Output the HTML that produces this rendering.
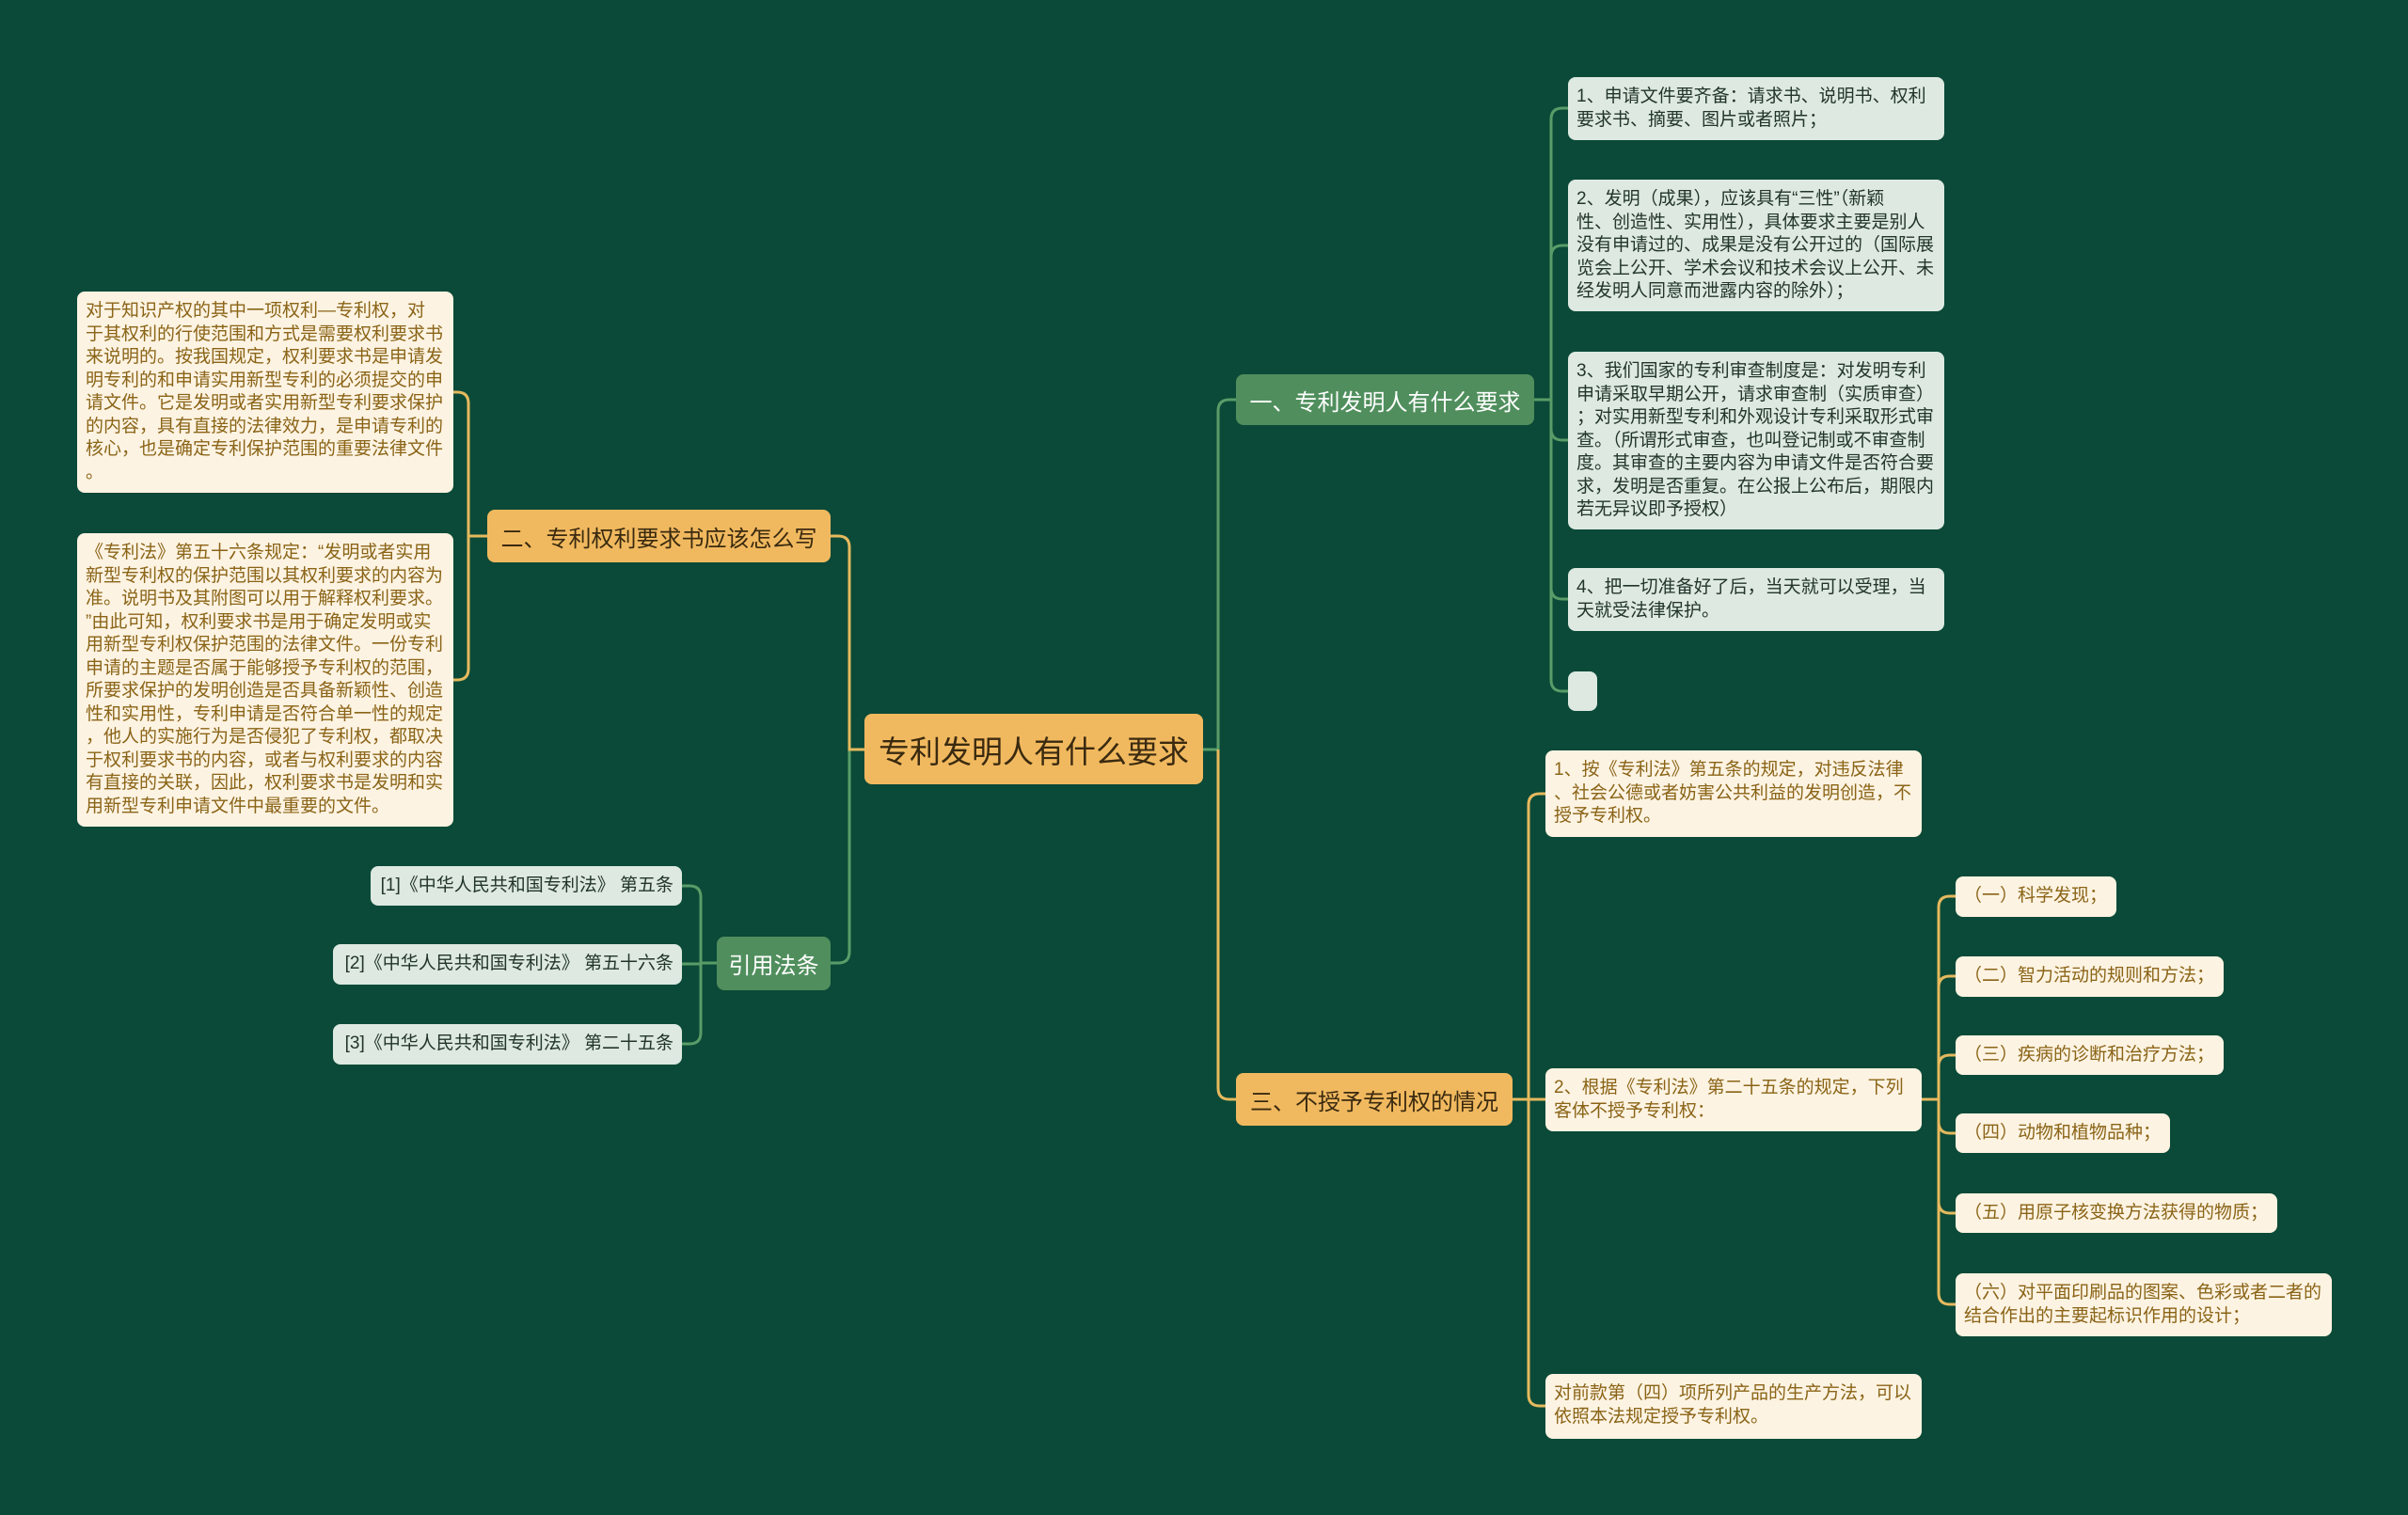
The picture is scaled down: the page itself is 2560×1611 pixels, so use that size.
<!DOCTYPE html>
<html><head><meta charset="utf-8"><style>
html,body{margin:0;padding:0}
body{width:2560px;height:1611px;background:#0b4a38;position:relative;overflow:hidden;font-family:"Liberation Sans","Noto Sans CJK SC",sans-serif}
.n{position:absolute;box-sizing:border-box;border-radius:8px;white-space:nowrap}
.t{font-size:19px;line-height:24.5px;padding:9px 9px}
.g{background:#dde9e1;color:#23352b}
.c{background:#fdf3e2;color:#8a6417}
.m{display:flex;align-items:center;justify-content:center;font-size:24px}
.gr{background:#508f5d;color:#fff}
.or{background:#f1b95f;color:#3a2a10}
svg{position:absolute;left:0;top:0}
</style></head><body>
<svg width="2560" height="1611" fill="none" stroke-width="3">
<g stroke="#5a9c68">
<path d="M1279 797 H1295 V437 Q1295 425 1307 425 H1314"/>
<path d="M919 797 H903 V1012 Q903 1024 891 1024 H883"/>
<path d="M1631 425 H1649"/>
<path d="M1649 425 V127 Q1649 115 1661 115 H1667"/>
<path d="M1649 425 V273 Q1649 261 1661 261 H1667"/>
<path d="M1649 425 V456 Q1649 468 1661 468 H1667"/>
<path d="M1649 425 V625 Q1649 637 1661 637 H1667"/>
<path d="M1649 425 V723 Q1649 735 1661 735 H1667"/>
<path d="M762 1024 H745"/>
<path d="M745 1024 V954 Q745 942 733 942 H725"/>
<path d="M745 1024 V1025 H725"/>
<path d="M745 1024 V1098 Q745 1110 733 1110 H725"/>
</g>
<g stroke="#e6b95e">
<path d="M1295 797 V1157 Q1295 1169 1307 1169 H1314"/>
<path d="M919 797 H903 V582 Q903 570 891 570 H883"/>
<path d="M518 570 H498"/>
<path d="M498 570 V429 Q498 417 486 417 H482"/>
<path d="M498 570 V711 Q498 723 486 723 H482"/>
<path d="M1608 1169 H1625"/>
<path d="M1625 1169 V856 Q1625 844 1637 844 H1643"/>
<path d="M1625 1169 H1643"/>
<path d="M1625 1169 V1483 Q1625 1495 1637 1495 H1643"/>
<path d="M2043 1169 H2061"/>
<path d="M2061 1169 V965 Q2061 953 2073 953 H2079"/>
<path d="M2061 1169 V1050 Q2061 1038 2073 1038 H2079"/>
<path d="M2061 1169 V1134 Q2061 1122 2073 1122 H2079"/>
<path d="M2061 1169 V1193 Q2061 1205 2073 1205 H2079"/>
<path d="M2061 1169 V1278 Q2061 1290 2073 1290 H2079"/>
<path d="M2061 1169 V1375 Q2061 1387 2073 1387 H2079"/>
</g>
</svg>

<div class="n m or" style="left:919px;top:759px;width:360px;height:75px;font-size:33px">专利发明人有什么要求</div>
<div class="n m gr" style="left:1314px;top:398px;width:317px;height:54px">一、专利发明人有什么要求</div>
<div class="n m or" style="left:518px;top:542px;width:365px;height:56px">二、专利权利要求书应该怎么写</div>
<div class="n m gr" style="left:762px;top:996px;width:121px;height:57px">引用法条</div>
<div class="n m or" style="left:1314px;top:1141px;width:294px;height:56px">三、不授予专利权的情况</div>

<div class="n t g" style="left:1667px;top:82px;width:400px;height:67px">1、申请文件要齐备：请求书、说明书、权利<br>要求书、摘要、图片或者照片；</div>
<div class="n t g" style="left:1667px;top:191px;width:400px;height:140px">2、发明（成果），应该具有“三性”（新颖<br>性、创造性、实用性），具体要求主要是别人<br>没有申请过的、成果是没有公开过的（国际展<br>览会上公开、学术会议和技术会议上公开、未<br>经发明人同意而泄露内容的除外）；</div>
<div class="n t g" style="left:1667px;top:374px;width:400px;height:189px">3、我们国家的专利审查制度是：对发明专利<br>申请采取早期公开，请求审查制（实质审查）<br>；对实用新型专利和外观设计专利采取形式审<br>查。（所谓形式审查，也叫登记制或不审查制<br>度。其审查的主要内容为申请文件是否符合要<br>求，发明是否重复。在公报上公布后，期限内<br>若无异议即予授权）</div>
<div class="n t g" style="left:1667px;top:604px;width:400px;height:67px">4、把一切准备好了后，当天就可以受理，当<br>天就受法律保护。</div>
<div class="n g" style="left:1667px;top:714px;width:31px;height:42px"></div>

<div class="n t c" style="left:82px;top:310px;width:400px;height:214px">对于知识产权的其中一项权利—专利权，对<br>于其权利的行使范围和方式是需要权利要求书<br>来说明的。按我国规定，权利要求书是申请发<br>明专利的和申请实用新型专利的必须提交的申<br>请文件。它是发明或者实用新型专利要求保护<br>的内容，具有直接的法律效力，是申请专利的<br>核心，也是确定专利保护范围的重要法律文件<br>。</div>
<div class="n t c" style="left:82px;top:567px;width:400px;height:312px">《专利法》第五十六条规定：“发明或者实用<br>新型专利权的保护范围以其权利要求的内容为<br>准。说明书及其附图可以用于解释权利要求。<br>”由此可知，权利要求书是用于确定发明或实<br>用新型专利权保护范围的法律文件。一份专利<br>申请的主题是否属于能够授予专利权的范围，<br>所要求保护的发明创造是否具备新颖性、创造<br>性和实用性，专利申请是否符合单一性的规定<br>，他人的实施行为是否侵犯了专利权，都取决<br>于权利要求书的内容，或者与权利要求的内容<br>有直接的关联，因此，权利要求书是发明和实<br>用新型专利申请文件中最重要的文件。</div>

<div class="n t g" style="left:394px;top:921px;width:331px;height:42px;text-align:right">[1]《中华人民共和国专利法》 第五条</div>
<div class="n t g" style="left:354px;top:1004px;width:371px;height:43px;text-align:right">[2]《中华人民共和国专利法》 第五十六条</div>
<div class="n t g" style="left:354px;top:1089px;width:371px;height:43px;text-align:right">[3]《中华人民共和国专利法》 第二十五条</div>

<div class="n t c" style="left:1643px;top:798px;width:400px;height:92px">1、按《专利法》第五条的规定，对违反法律<br>、社会公德或者妨害公共利益的发明创造，不<br>授予专利权。</div>
<div class="n t c" style="left:1643px;top:1136px;width:400px;height:67px">2、根据《专利法》第二十五条的规定，下列<br>客体不授予专利权：</div>
<div class="n t c" style="left:1643px;top:1461px;width:400px;height:69px">对前款第（四）项所列产品的生产方法，可以<br>依照本法规定授予专利权。</div>

<div class="n t c" style="left:2079px;top:932px;width:171px;height:43px">（一）科学发现；</div>
<div class="n t c" style="left:2079px;top:1017px;width:285px;height:43px">（二）智力活动的规则和方法；</div>
<div class="n t c" style="left:2079px;top:1101px;width:285px;height:42px">（三）疾病的诊断和治疗方法；</div>
<div class="n t c" style="left:2079px;top:1184px;width:228px;height:42px">（四）动物和植物品种；</div>
<div class="n t c" style="left:2079px;top:1269px;width:342px;height:42px">（五）用原子核变换方法获得的物质；</div>
<div class="n t c" style="left:2079px;top:1354px;width:400px;height:67px">（六）对平面印刷品的图案、色彩或者二者的<br>结合作出的主要起标识作用的设计；</div>
</body></html>
